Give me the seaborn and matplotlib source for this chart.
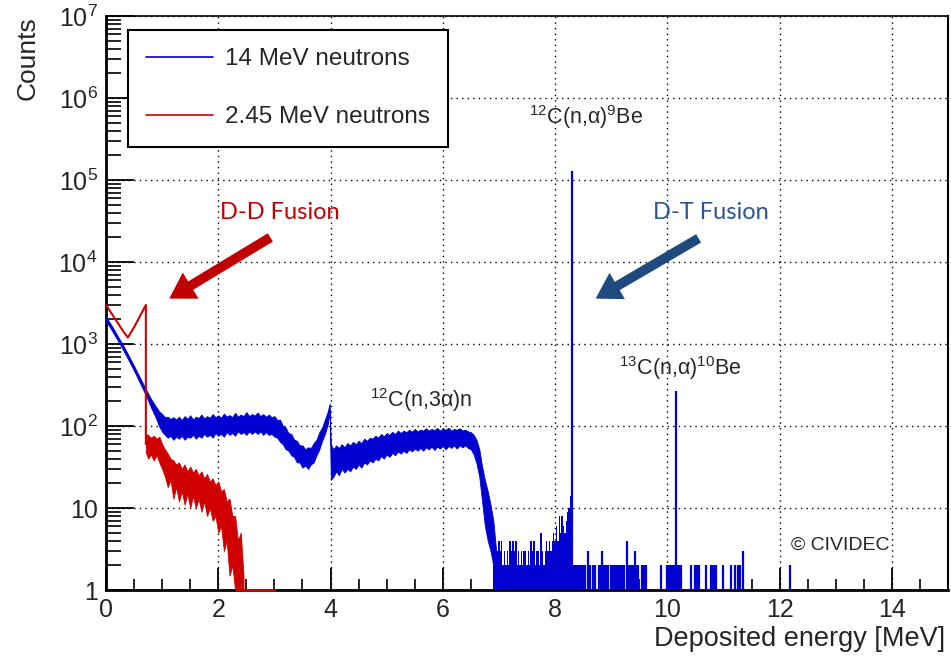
import numpy as np
import pandas as pd
import matplotlib
matplotlib.use("Agg")
import matplotlib.pyplot as plt
import seaborn as sns
from matplotlib.lines import Line2D
from matplotlib.ticker import MultipleLocator, LogLocator, FixedLocator, FixedFormatter, NullFormatter

# ---------------- data ----------------
# 14 MeV neutrons, smooth low-energy part: lower / upper edge of the trace
blue_smooth_E = [0.0, 0.1, 0.2, 0.3, 0.4, 0.5, 0.6, 0.7, 0.8, 0.9]
blue_smooth_lo = [1900, 1480, 1130, 860, 640, 470, 340, 245, 170, 120]
blue_smooth_hi = [2150, 1680, 1280, 980, 730, 540, 395, 290, 215, 168]

# 14 MeV neutrons, noisy continuum up to the 4 MeV edge (0.95 ... 3.95 every 0.05, then 3.985)
blue_noisy1_lo = [98, 85, 78, 72, 76, 68, 74, 70, 76, 68,
                  74, 72, 78, 70, 76, 72, 80, 74, 78, 72,
                  82, 76, 80, 74, 84, 78, 82, 76, 86, 80,
                  84, 78, 86, 80, 86, 80, 86, 78, 84, 78,
                  80, 74, 72, 64, 60, 52, 50, 44, 42, 36,
                  36, 31, 33, 30, 34, 36, 44, 52, 66, 80,
                  105, 150]
blue_noisy1_hi = [150, 140, 128, 130, 122, 128, 120, 130, 118, 132,
                  122, 135, 120, 130, 125, 138, 124, 132, 126, 140,
                  128, 135, 126, 142, 130, 136, 128, 145, 130, 138,
                  132, 148, 132, 140, 134, 146, 132, 140, 130, 138,
                  128, 132, 118, 120, 100, 96, 82, 80, 68, 66,
                  58, 58, 52, 55, 54, 62, 68, 84, 96, 120,
                  150, 188]

# 14 MeV neutrons, noisy continuum above 4 MeV (4.005, then 4.05 ... 6.95 every 0.05)
blue_noisy2_lo = [22, 24, 28, 25, 30, 27, 30, 28, 32, 30,
                  34, 31, 36, 34, 38, 36, 40, 38, 43, 40,
                  45, 42, 47, 44, 49, 46, 50, 47, 52, 49,
                  53, 50, 54, 50, 55, 52, 56, 51, 56, 53,
                  57, 52, 57, 54, 58, 53, 58, 55, 58, 54,
                  52, 45, 35, 24, 12, 6, 4, 3, 2, 1]
blue_noisy2_hi = [60, 52, 58, 54, 60, 55, 62, 58, 64, 60,
                  66, 62, 70, 66, 72, 70, 76, 72, 80, 75,
                  82, 78, 85, 80, 88, 82, 88, 84, 90, 85,
                  92, 86, 90, 88, 94, 88, 92, 89, 95, 88,
                  93, 90, 95, 88, 92, 90, 94, 88, 90, 86,
                  84, 78, 68, 52, 32, 22, 16, 11, 7, 3]

# 14 MeV neutrons: dense low-count bins before the 12C(n,a)9Be line (bin width 0.025 MeV)
blue_dense_start = 6.90
blue_dense_counts = [5, 4, 3, 3, 4, 3, 4, 2, 3, 2, 3, 2, 4, 3, 4, 3, 4, 2, 3, 2,
                     3, 2, 3, 3, 2, 3, 2, 4, 3, 4, 2, 3, 3, 2, 5, 3, 2, 3, 4, 3,
                     4, 3, 4, 5, 4, 6, 4, 8, 5, 8, 6, 5, 7, 9, 10, 14]

# 14 MeV neutrons: isolated bins (energy, counts) incl. the two carbon lines
blue_sparse_E = [8.30, 8.325, 8.35, 8.375, 8.40, 8.425, 8.45, 8.475, 8.50, 8.525,
                 8.58, 8.63, 8.67, 8.72, 8.775, 8.80, 8.84, 8.85, 8.875, 8.90, 8.925, 8.95,
                 9.00, 9.03, 9.075, 9.10, 9.125, 9.15, 9.175, 9.20, 9.225,
                 9.28, 9.30, 9.325, 9.35, 9.375, 9.40, 9.43, 9.45, 9.475,
                 9.55, 9.575, 9.60, 9.625, 9.89,
                 10.00, 10.025, 10.05, 10.075, 10.10, 10.125, 10.15, 10.175, 10.20, 10.25,
                 10.43, 10.50, 10.525, 10.56, 10.69, 10.78, 10.81, 10.84, 10.87,
                 11.00, 11.14, 11.21, 11.25, 11.29, 11.34, 12.19]
blue_sparse_counts = [130000, 2, 2, 2, 2, 2, 2, 2, 2, 2,
                      3, 2, 2, 2, 2, 2, 3, 2, 2, 2, 2, 2,
                      2, 2, 2, 2, 2, 2, 2, 2, 2,
                      4, 2, 2, 2, 2, 2, 3, 2, 2,
                      2, 2, 2, 2, 2,
                      2, 2, 2, 2, 2, 2, 270, 2, 2, 2,
                      2, 2, 2, 2, 2, 2, 2, 2, 2,
                      2, 2, 2, 2, 2, 3, 2]

# 2.45 MeV neutrons: smooth part (incl. the edge at 0.71 MeV)
red_line_E = [0.00, 0.10, 0.20, 0.30, 0.39, 0.50, 0.60, 0.71, 0.71]
red_line_counts = [3000, 2350, 1850, 1450, 1200, 1600, 2150, 3000, 60]
# 2.45 MeV neutrons: noisy part (0.71, then 0.75 ... 2.45 every 0.05)
red_noisy_lo = [48, 40, 45, 38, 44, 36, 30, 24, 18, 22,
                13, 18, 12, 16, 11, 15, 10, 14, 10, 13,
                9, 12, 8, 10, 7, 8, 5, 6, 3, 4,
                1.5, 2, 1, 1, 1, 1]
red_noisy_hi = [80, 78, 72, 76, 70, 74, 60, 52, 46, 40,
                38, 34, 36, 30, 34, 28, 32, 27, 30, 25,
                28, 23, 26, 21, 23, 19, 21, 16, 17, 12,
                13, 8, 8, 4, 5, 1.5]
red_empty_E = [2.45, 3.00]

legend_labels = ["14 MeV neutrons", "2.45 MeV neutrons"]
y_tick_values = [1, 10, 1e2, 1e3, 1e4, 1e5, 1e6, 1e7]
y_tick_labels = ["1", "10", r"$10^{2}$", r"$10^{3}$", r"$10^{4}$", r"$10^{5}$", r"$10^{6}$", r"$10^{7}$"]

# energy grids of the histogram bins
blue_noisy1_E = list(np.round(np.arange(0.95, 3.951, 0.05), 3)) + [3.985]
blue_noisy2_E = [4.005] + list(np.round(np.arange(4.05, 6.951, 0.05), 3))
red_noisy_E = [0.71] + list(np.round(np.arange(0.75, 2.451, 0.05), 3))

blue_E = blue_smooth_E + blue_noisy1_E + blue_noisy2_E
blue_lo = blue_smooth_lo + blue_noisy1_lo + blue_noisy2_lo
blue_hi = blue_smooth_hi + blue_noisy1_hi + blue_noisy2_hi
assert len(blue_E) == len(blue_lo) == len(blue_hi)
assert len(red_noisy_E) == len(red_noisy_lo) == len(red_noisy_hi)
assert len(blue_sparse_E) == len(blue_sparse_counts)

# ---------------- style ----------------
sns.set_style("white")
plt.rcParams["font.family"] = ["Liberation Sans", "DejaVu Sans"]
plt.rcParams["mathtext.fontset"] = "custom"
plt.rcParams["mathtext.rm"] = "Liberation Sans"
plt.rcParams["mathtext.it"] = "Liberation Sans:italic"
plt.rcParams["mathtext.bf"] = "Liberation Sans:bold"

BLUE = "#0000d0"
RED = "#d00000"

fig = plt.figure(figsize=(9.51, 6.60), dpi=100)
ax = fig.add_axes([106 / 951, 70 / 660, 842 / 951, 574 / 660])

# blue continuum band
blue_df = pd.DataFrame({"E": blue_E, "lo": blue_lo, "hi": blue_hi})
ax.fill_between(blue_df["E"], blue_df["lo"], blue_df["hi"], color=BLUE, lw=0.6, edgecolor=BLUE, zorder=3)

# blue dense bins
dense_E = blue_dense_start + 0.025 * np.arange(len(blue_dense_counts))
dense_df = pd.DataFrame({"E": dense_E, "counts": blue_dense_counts})
ax.bar(dense_df["E"], dense_df["counts"] - 1, bottom=1, width=0.026, color=BLUE, lw=0, zorder=3)

# blue isolated bins
sparse_df = pd.DataFrame({"E": blue_sparse_E, "counts": blue_sparse_counts})
ax.vlines(sparse_df["E"], 1, sparse_df["counts"], color=BLUE, lw=1.6, zorder=3)

# red smooth part
red_df = pd.DataFrame({"E": red_line_E, "counts": red_line_counts})
sns.lineplot(data=red_df, x="E", y="counts", estimator=None, sort=False, color=RED, lw=1.5, ax=ax, zorder=4)
# red noisy band
red_band_df = pd.DataFrame({"E": red_noisy_E, "lo": red_noisy_lo, "hi": red_noisy_hi})
ax.fill_between(red_band_df["E"], red_band_df["lo"], red_band_df["hi"], color=RED, lw=0.6, edgecolor=RED, zorder=4)
ax.plot(red_empty_E, [1, 1], color=RED, lw=2, clip_on=False, zorder=5)

# ---------------- axes ----------------
ax.set_yscale("log")
ax.set_xlim(0, 15)
ax.set_ylim(1, 1e7)

ax.xaxis.set_major_locator(MultipleLocator(2))
ax.xaxis.set_minor_locator(MultipleLocator(0.5))
ax.yaxis.set_major_locator(FixedLocator(y_tick_values))
ax.yaxis.set_major_formatter(FixedFormatter(y_tick_labels))
ax.yaxis.set_minor_locator(LogLocator(base=10, subs=np.arange(2, 10)))
ax.yaxis.set_minor_formatter(NullFormatter())

ax.tick_params(axis="both", which="both", direction="in", color="black",
               top=False, right=False, bottom=True, left=True)
ax.tick_params(axis="both", which="major", labelsize=18, width=1.3)
ax.tick_params(axis="x", which="major", length=16, pad=6)
ax.tick_params(axis="x", which="minor", length=8, width=1.2)
ax.tick_params(axis="y", which="major", length=20, pad=6)
ax.tick_params(axis="y", which="minor", length=11, width=1.2)

ax.grid(True, which="major", color="black", linestyle=(0, (1, 3)), lw=1.0)
ax.set_axisbelow(True)
for side, w in (("left", 2.0), ("bottom", 2.0), ("top", 1.2), ("right", 1.5)):
    ax.spines[side].set_visible(True)
    ax.spines[side].set_linewidth(w)
    ax.spines[side].set_color("black")

ax.set_ylabel("Counts", fontsize=19, loc="top")
ax.yaxis.set_label_coords(-0.079, 1.0)
ax.set_xlabel("Deposited energy [MeV]", fontsize=19.5, loc="right")
ax.xaxis.set_label_coords(0.997, -0.062)

# ---------------- legend ----------------
handles = [Line2D([0], [0], color=BLUE, lw=1.2), Line2D([0], [0], color=RED, lw=1.2)]
leg = ax.legend(handles, legend_labels, loc="upper left", bbox_to_anchor=(0.026, 0.976),
                borderaxespad=0, fontsize=17.5, frameon=True, fancybox=False, edgecolor="black",
                framealpha=1, handlelength=2.75, handletextpad=0.5, borderpad=0.75, labelspacing=1.5)
leg.get_frame().set_linewidth(1.5)
leg.set_zorder(10)

# ---------------- annotations ----------------
ax.text(3.10, 4.07e4, "D-D Fusion", color="#c00000", fontsize=17, family=["Lato", "DejaVu Sans"],
        ha="center", va="center", zorder=6)
ax.text(10.77, 4.07e4, "D-T Fusion", color="#2b5592", fontsize=17, family=["Lato", "DejaVu Sans"],
        ha="center", va="center", zorder=6)
arrow_style = "simple,head_length=0.9,head_width=1.1,tail_width=0.35"
ax.annotate("", xy=(1.085, 3440), xytext=(2.97, 20750),
            arrowprops=dict(arrowstyle=arrow_style, color="#c00000", mutation_scale=20, lw=0), zorder=6)
ax.annotate("", xy=(8.68, 3440), xytext=(10.6, 20200),
            arrowprops=dict(arrowstyle=arrow_style, color="#1f4a7e", mutation_scale=20, lw=0), zorder=6)

ax.text(7.54, 5.87e5, r"$^{12}$C(n,α)$^{9}$Be", fontsize=15.5, ha="left", va="center", zorder=6)
ax.text(4.70, 207, r"$^{12}$C(n,3α)n", fontsize=15.5, ha="left", va="center", zorder=6)
ax.text(9.146, 510, r"$^{13}$C(n,α)$^{10}$Be", fontsize=15.5, ha="left", va="center", zorder=6)
ax.text(12.2, 3.54, "\u00a9 CIVIDEC", fontsize=14, ha="left", va="center", zorder=6)

fig.savefig("out.png", dpi=100)
